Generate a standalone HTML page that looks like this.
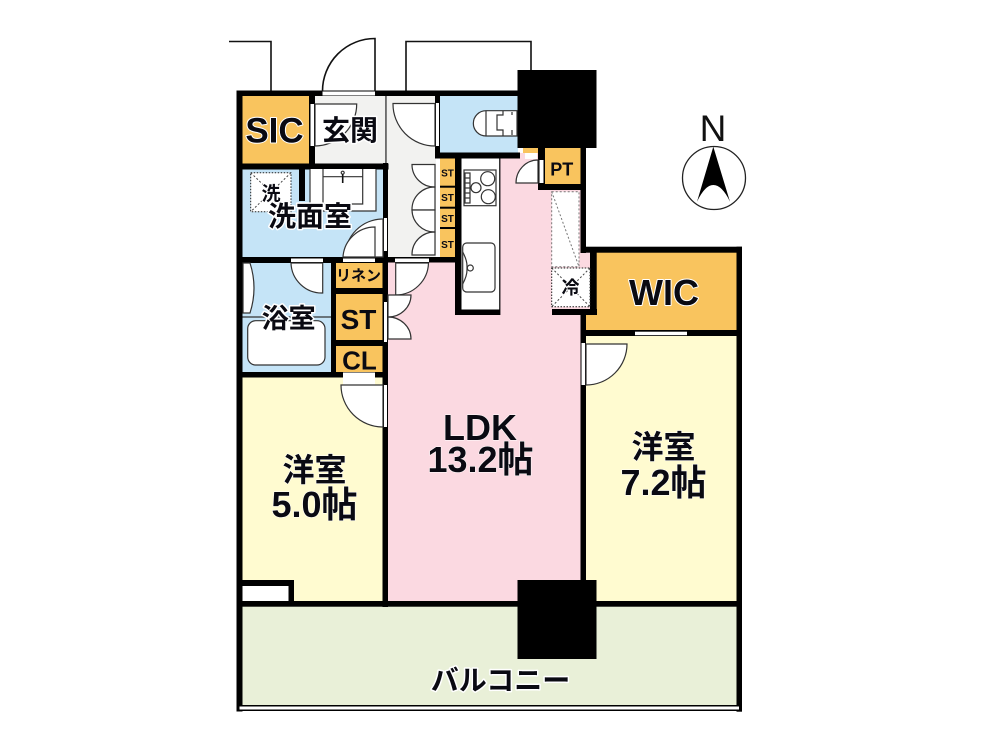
<!DOCTYPE html>
<html><head><meta charset="utf-8"><style>
html,body{margin:0;padding:0;background:#fff}
svg{display:block}
text{font-family:"Liberation Sans","Noto Sans CJK JP",sans-serif;fill:#0a0a12;text-anchor:middle;paint-order:stroke;stroke:#fff;stroke-linejoin:round}
.b{font-weight:700}
.l{fill:#fff;stroke:#333;stroke-width:1.2}
.n{fill:none;stroke:#333;stroke-width:1.2}
.o{fill:none;stroke:#111;stroke-width:1.6}
.d{fill:#fff;stroke:#222;stroke-width:1;stroke-dasharray:1.500 1.500}
.dn{fill:none;stroke:#444;stroke-width:1;stroke-dasharray:2 2}
</style></head><body>
<svg width="1000" height="750" viewBox="0 0 1000 750" xmlns="http://www.w3.org/2000/svg">
<rect width="1000" height="750" fill="#fff"/>
<!-- room fills -->
<rect x="242" y="96" width="68" height="68" fill="#f9c45e"/>
<rect x="314" y="96" width="72" height="68" fill="#f2f2f0"/>
<rect x="386" y="96" width="50" height="162" fill="#f2f2f0"/>
<rect x="440" y="96" width="78" height="57" fill="#c5e4f7"/>
<rect x="242" y="169" width="142" height="89" fill="#c5e4f7"/>
<rect x="242" y="262" width="90" height="111" fill="#c5e4f7"/>
<rect x="336" y="263" width="47" height="25" fill="#f9c45e"/>
<rect x="336" y="294" width="47" height="47" fill="#f9c45e"/>
<rect x="336" y="346" width="47" height="26" fill="#f9c45e"/>
<rect x="242" y="377" width="142" height="225" fill="#fffbd0"/>
<rect x="388" y="262" width="193" height="340" fill="#fbd9e1"/>
<rect x="500" y="153" width="81" height="120" fill="#fbd9e1"/>
<rect x="580" y="247" width="12" height="62" fill="#fbd9e1"/>
<rect x="586" y="336" width="151" height="266" fill="#fffbd0"/>
<rect x="596" y="252" width="141" height="79" fill="#f9c45e"/>
<rect x="586" y="314" width="12" height="17" fill="#f9c45e"/>
<rect x="545" y="148" width="36" height="37" fill="#f9c45e"/>
<rect x="523" y="148" width="16" height="5" fill="#f9c45e"/>
<rect x="440" y="158" width="16" height="99" fill="#f9c45e"/>
<rect x="242" y="606" width="495" height="100" fill="#e9f0d8"/>
<rect x="242" y="586" width="47" height="16" fill="#fff"/>
<!-- exterior lines -->
<path class="o" d="M229 41.500H271V91M406 91V41.500H531V70"/>
<!-- walls -->
<g fill="#000">
<rect x="236.500" y="90.500" width="282" height="5.500"/>
<rect x="236.500" y="90.500" width="6" height="621"/>
<rect x="309" y="96" width="6" height="68"/>
<rect x="236.500" y="163.500" width="152" height="6"/>
<rect x="385.300" y="96" width="1.300" height="68" fill="#333"/>
<rect x="383" y="163" width="5" height="100"/>
<rect x="435" y="96" width="5" height="62"/>
<rect x="435" y="152.500" width="85" height="6"/>
<rect x="455" y="153" width="6.500" height="162"/>
<rect x="455" y="309" width="45" height="6"/>
<rect x="383" y="257" width="78" height="5.500"/>
<rect x="236.500" y="257" width="151" height="6"/>
<rect x="331" y="257" width="5" height="120"/>
<rect x="336" y="288" width="47" height="6"/>
<rect x="336" y="340" width="47" height="6"/>
<rect x="236.500" y="372" width="151" height="5.500"/>
<rect x="382.500" y="257" width="5.500" height="350"/>
<rect x="299" y="169" width="6" height="32"/>
<rect x="538" y="148" width="7" height="42"/>
<rect x="538" y="184" width="48" height="6"/>
<rect x="580.500" y="148" width="5.500" height="105"/>
<rect x="580.500" y="246.700" width="161.500" height="6"/>
<rect x="590" y="247" width="6.700" height="68"/>
<rect x="552" y="309" width="45" height="6"/>
<rect x="580.500" y="309" width="5.500" height="293"/>
<rect x="736.500" y="246.700" width="5.500" height="465"/>
<rect x="580.500" y="330" width="161.500" height="6"/>
<rect x="236.500" y="601" width="505.500" height="5.700"/>
<rect x="288.500" y="580" width="5.500" height="22"/>
<rect x="236.500" y="580" width="57.500" height="6"/>
<rect x="236.500" y="705" width="505.500" height="6"/>
<rect x="517.500" y="70" width="79" height="78"/>
<rect x="517.500" y="580" width="79" height="79"/>
</g>
<rect x="239.500" y="706.500" width="499.500" height="3" fill="#fff"/>
<rect x="236.500" y="601" width="6" height="104" fill="#000"/>
<rect x="736.500" y="601" width="5.500" height="104" fill="#000"/>
<!-- white slivers (openings) -->
<g fill="#fff">
<rect x="322.500" y="91.500" width="52.500" height="4"/>
<rect x="310.500" y="104" width="3.500" height="42"/>
<rect x="436" y="103" width="3" height="43"/>
<rect x="436" y="159" width="3" height="98"/>
<rect x="291" y="258.500" width="32" height="3.500"/>
<rect x="343" y="258.500" width="32" height="3.500"/>
<rect x="384" y="218" width="3" height="33"/>
<rect x="395" y="258.500" width="34" height="3.500"/>
<rect x="384" y="302" width="3" height="40"/>
<rect x="343" y="372.500" width="32" height="5"/>
<rect x="343" y="377" width="32" height="8"/>
<rect x="384" y="385" width="3" height="42"/>
<rect x="539.500" y="160" width="4" height="23"/>
<rect x="525" y="153" width="12" height="6"/>
<rect x="635" y="331.700" width="52" height="3.500"/>
<rect x="581.500" y="343" width="3.500" height="42"/>
</g>
<rect x="375" y="250" width="7" height="7" fill="#c5e4f7"/>
<!-- wash counter -->
<rect x="310" y="169" width="66" height="42" fill="#fff"/>
<path class="n" d="M310 169V211H376V169M323 169V204H362.700V169M323 176.700H362.700"/>
<circle cx="342.700" cy="172.700" r="1.500" class="l"/><path d="M342.700 174V183" stroke="#111" stroke-width="1.600"/>
<rect x="250.700" y="172.700" width="40.300" height="39" class="d"/>
<path class="dn" d="M250.700 172.700L291 211.700M291 172.700L250.700 211.700"/>
<!-- doors -->
<path class="o" d="M375 91V38.500A52.500 52.500 0 0 0 322.500 91"/>
<path class="l" d="M315 104H356.700A42 42 0 0 1 315 146Z"/>
<path class="l" d="M435 103.500H393A42 42 0 0 0 435 146Z"/>
<path class="l" d="M435 164.500H412A22.500 22.500 0 0 0 435 187Z"/>
<path class="l" d="M435 210H412A22.500 22.500 0 0 1 435 187Z"/>
<path class="l" d="M435 210H412A22.500 22.500 0 0 0 435 232Z"/>
<path class="l" d="M435 255H412A22.500 22.500 0 0 1 435 232Z"/>
<path class="l" d="M383 219A38 38 0 0 0 345 257H383Z"/>
<path class="l" d="M375 227A32 32 0 0 0 343 257H375Z"/>
<path class="l" d="M322.700 263V293A31 31 0 0 1 291 263Z"/>
<path class="l" d="M395.700 263V295A33 33 0 0 0 428.500 263Z"/>
<path class="l" d="M388 295H411A23 22 0 0 1 388 317Z"/>
<path class="l" d="M388 339H411A23 22 0 0 0 388 317Z"/>
<path class="l" d="M383 385H341A42 42 0 0 0 383 427Z"/>
<path class="l" d="M538 183H516A22 23 0 0 1 538 160Z"/>
<path class="l" d="M586 344H627A41 41 0 0 1 586 385Z"/>
<!-- bath -->
<path class="n" d="M242.500 317H331"/>
<rect x="247.700" y="320.700" width="77.300" height="44.300" rx="8" class="l"/>
<path class="l" d="M243 263H250Q258 288 250 313H243Z"/>
<!-- toilet -->
<path class="l" d="M517 110.700H486A12.500 12.500 0 0 0 486 136H517Z"/>
<path class="n" d="M486 110.700V136M503 110.700V115H497V130H503V136M512 115V112M512 130V135"/>
<!-- kitchen -->
<rect x="461.500" y="158.500" width="38" height="151" fill="#fff"/>
<path d="M499.800 158V315" stroke="#000" stroke-width="1.200"/>
<rect x="464" y="170" width="32" height="35.700" class="l"/>
<circle cx="487.700" cy="178.700" r="7" class="l"/>
<circle cx="488.300" cy="196.700" r="7" class="l"/>
<circle cx="476" cy="187.700" r="5" class="l"/>
<path class="n" d="M465 173H470V203H465ZM465 178H470M465 183H470M465 188H470M465 193H470M465 198H470"/>
<rect x="462.700" y="243" width="32.300" height="49" rx="4" class="l"/>
<path class="n" d="M462.700 252Q467 260 467 266V270Q467 276 462.700 284"/>
<circle cx="470.300" cy="268" r="3" class="l"/>
<!-- fridge / shelf -->
<rect x="551.700" y="191.700" width="27.300" height="75" fill="#fff" stroke="#777" stroke-width="1" stroke-dasharray="2 2"/>
<path d="M551.700 191.700L579 266.700" fill="none" stroke="#777" stroke-width="1" stroke-dasharray="2 2"/>
<rect x="551.700" y="268" width="38.300" height="38.700" class="d"/>
<path class="dn" d="M551.700 268L590 306.700M590 268L551.700 306.700"/>
<!-- ST dividers -->
<g fill="#000">
<rect x="440" y="185.700" width="15" height="2"/>
<rect x="440" y="206.700" width="15" height="2"/>
<rect x="440" y="227" width="15" height="2"/>
</g>
<!-- labels -->
<text x="274.500" y="142.500" class="b" font-size="35" stroke-width="2">SIC</text>
<text x="350" y="140" class="b" font-size="28" stroke-width="3">玄関</text>
<text x="271" y="200" class="b" font-size="19" stroke-width="2">洗</text>
<text x="310" y="226" class="b" font-size="28" stroke-width="3">洗面室</text>
<text x="288.700" y="328" class="b" font-size="27" stroke-width="3">浴室</text>
<text x="358.500" y="280.500" class="b" font-size="15" stroke-width="0">リネン</text>
<text x="358.500" y="329" class="b" font-size="28" stroke-width="0">ST</text>
<text x="359.500" y="369.500" class="b" font-size="26" stroke-width="0">CL</text>
<text x="447.500" y="176.500" class="b" font-size="10" stroke-width="0">ST</text>
<text x="447.500" y="201" class="b" font-size="10" stroke-width="0">ST</text>
<text x="447.500" y="222" class="b" font-size="10" stroke-width="0">ST</text>
<text x="447.500" y="248" class="b" font-size="10" stroke-width="0">ST</text>
<text x="561.700" y="175.500" class="b" font-size="18" stroke-width="0">PT</text>
<text x="570.500" y="294" class="b" font-size="18" stroke-width="2">冷</text>
<text x="664" y="305" class="b" font-size="36" stroke-width="2">WIC</text>
<text x="480" y="440" font-size="36" stroke-width="1" style="font-weight:700">LDK</text>
<text x="480.500" y="472" font-size="36" stroke-width="1" style="font-weight:700">13.2帖</text>
<text x="663.500" y="458" font-size="32" stroke-width="1" style="font-weight:700">洋室</text>
<text x="663.500" y="495" font-size="36" stroke-width="1" style="font-weight:700">7.2帖</text>
<text x="314.500" y="481" font-size="32" stroke-width="1" style="font-weight:700">洋室</text>
<text x="314.500" y="517" font-size="36" stroke-width="1" style="font-weight:700">5.0帖</text>
<text x="500.500" y="690" class="b" font-size="28" stroke-width="3">バルコニー</text>
<!-- north -->
<text x="713" y="141" font-size="37" stroke-width="0" style="fill:#111">N</text>
<circle cx="714" cy="178" r="31.500" fill="#fff" stroke="#222" stroke-width="1.300"/>
<path d="M713.300 146.700L730 201.700Q722 185 713.300 185Q705 185 697 201.700Z" fill="#000"/>
</svg>
</body></html>
